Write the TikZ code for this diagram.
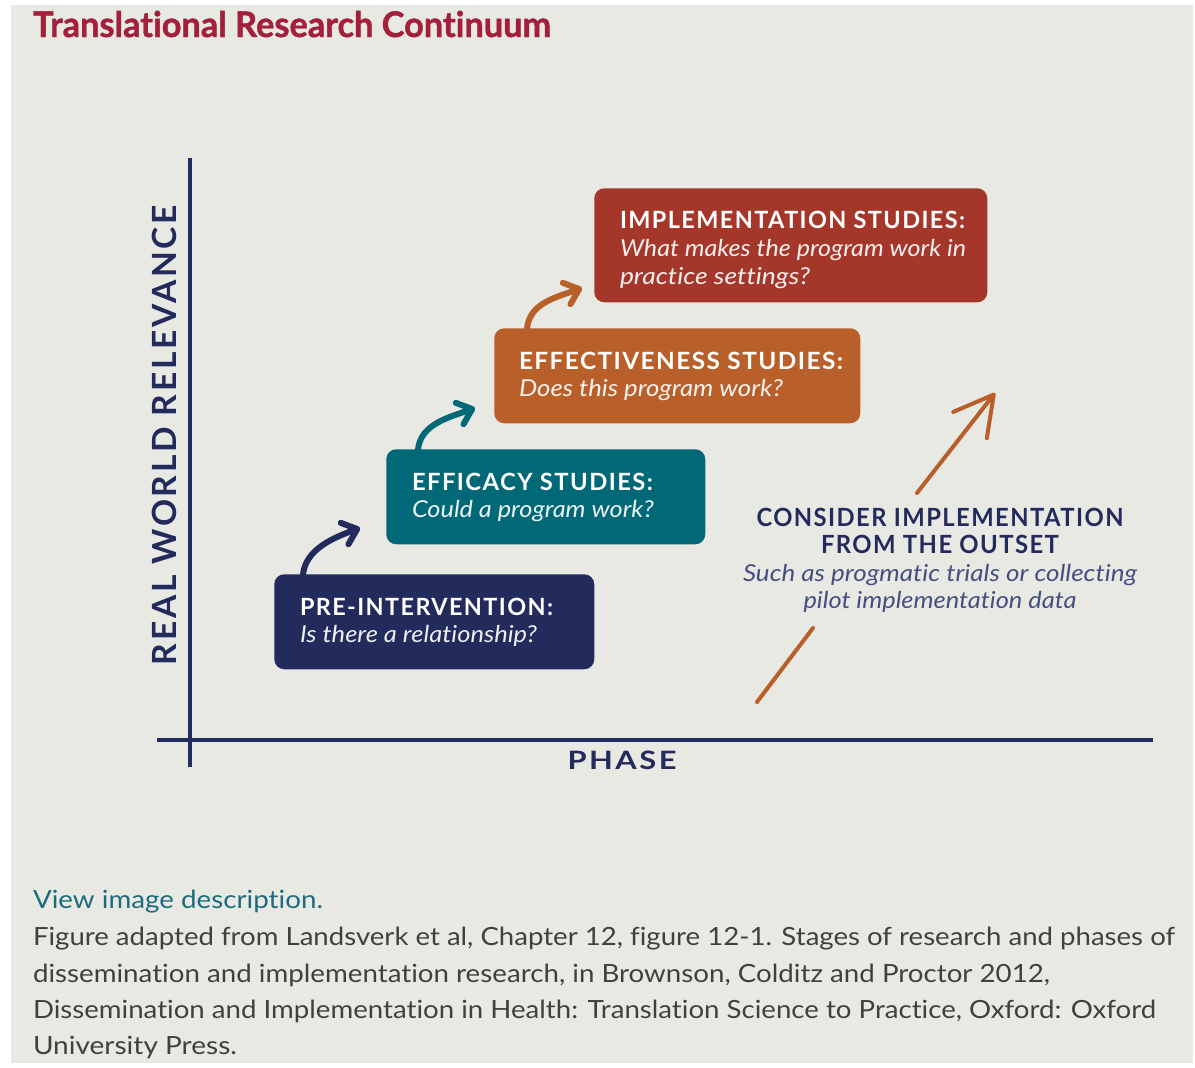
\documentclass[tikz,border=0pt]{standalone}
\usepackage{fontspec}
\setmainfont{Lato}[Ligatures=NoCommon]
\usepackage{graphicx}
\usetikzlibrary{arrows.meta,calc}
\definecolor{bg}{HTML}{E9E9E4}
\definecolor{navy}{HTML}{232A5C}
\definecolor{teal}{HTML}{006877}
\definecolor{orng}{HTML}{B95F29}
\definecolor{brick}{HTML}{A5372A}
\definecolor{crimson}{HTML}{A31F3A}
\definecolor{linkc}{HTML}{1C6C80}
\definecolor{captc}{HTML}{404040}
\definecolor{softnavy}{HTML}{474E82}
\newsavebox\fitbox
\newdimen\fitdim
\newcommand\hfit[2]{\sbox\fitbox{#2}\fitdim=\wd\fitbox\pgfmathsetmacro\fitratio{#1*0.75/\fitdim}\scalebox{\fitratio}[1]{\usebox\fitbox}}
\newcommand\hdfont{\fontsize{17.8}{20}\selectfont\bfseries\addfontfeature{LetterSpace=6}}
\newcommand\itfont{\fontsize{17.5}{20}\selectfont\itshape}
\tikzset{
  txt/.style={inner sep=0pt, outer sep=0pt, anchor=base west},
  ctxt/.style={inner sep=0pt, outer sep=0pt, anchor=base},
  stagebox/.style={rounded corners=7.5pt, inner sep=0pt, anchor=north west},
  stagearrow/.style={line width=4.5pt, line cap=round, -{Straight Barb[length=10pt,width=17pt,round]}},
  axisline/.style={draw=navy, line width=2.6pt},
}
\begin{document}
\begin{tikzpicture}[x=0.75pt,y=-0.75pt]
\useasboundingbox (0,0) rectangle (1195,1067);
\fill[white] (0,0) rectangle (1195,1067);
\fill[bg] (11,5) rectangle (1193,1063);

% title
\node[txt, text=crimson] (title) at (33,37) {\hfit{518}{\fontsize{26.5}{30}\selectfont\bfseries\addfontfeature{FakeBold=1.2}Translational Research Continuum}};

% axes
\coordinate (ytop) at (190,158);
\coordinate (ybot) at (190,767);
\coordinate (xl) at (157,740);
\coordinate (xr) at (1153,740);
\draw[axisline] (ytop) -- (ybot);
\draw[axisline] (xl) -- (xr);
\node[ctxt, rotate=90, text=navy] (ylabel) at (176,435) {\hfit{460}{\fontsize{25}{28}\selectfont\bfseries\addfontfeature{LetterSpace=8}REAL WORLD RELEVANCE}};
\node[ctxt, text=navy] (xlabel) at (622,769) {\hfit{109}{\fontsize{19}{22}\selectfont\bfseries\addfontfeature{LetterSpace=8}PHASE}};

% boxes
\node[stagebox, fill=navy, minimum width=240pt, minimum height=71.25pt] (pre) at (274,574) {};
\node[stagebox, fill=teal, minimum width=239.25pt, minimum height=71.25pt] (effic) at (386,449) {};
\node[stagebox, fill=orng, minimum width=274.5pt, minimum height=71.25pt] (effect) at (494,328) {};
\node[stagebox, fill=brick, minimum width=294.75pt, minimum height=85.5pt] (impl) at (594,188) {};

% box texts
\node[txt, text=white] (preh) at (300,615) {\hfit{253}{\hdfont PRE-INTERVENTION:}};
\node[txt, text=white!92!navy] (prei) at (300,642) {\hfit{237}{\itfont Is there a relationship?}};
\node[txt, text=white] (effich) at (412,490) {\hfit{241}{\hdfont EFFICACY STUDIES:}};
\node[txt, text=white!92!teal] (effici) at (412,517) {\hfit{242}{\itfont Could a program work?}};
\node[txt, text=white] (effecth) at (519,369) {\hfit{324}{\hdfont EFFECTIVENESS STUDIES:}};
\node[txt, text=white!92!orng] (effecti) at (519,396) {\hfit{264}{\itfont Does this program work?}};
\node[txt, text=white] (implh) at (620,228) {\hfit{345}{\hdfont IMPLEMENTATION STUDIES:}};
\node[txt, text=white!92!brick] (impli) at (620,256) {\hfit{346}{\itfont What makes the program work in}};
\node[txt, text=white!92!brick] (impli2) at (620,284) {\hfit{190}{\itfont practice settings?}};

% curved stage arrows
\coordinate (a1s) at ($(pre.north west)+(29,1)$);
\coordinate (a1t) at (360,528);
\draw[stagearrow, navy] (a1s) .. controls ($(a1s)+(2,-26)$) and ($(a1t)+(-25,9)$) .. (a1t);
\coordinate (a2s) at ($(effic.north west)+(32,1)$);
\coordinate (a2t) at (475,408);
\draw[stagearrow, teal] (a2s) .. controls ($(a2s)+(2,-26)$) and ($(a2t)+(-25,9)$) .. (a2t);
\coordinate (a3s) at ($(effect.north west)+(33,1)$);
\coordinate (a3t) at (582,288);
\draw[stagearrow, orng] (a3s) .. controls ($(a3s)+(2,-26)$) and ($(a3t)+(-25,9)$) .. (a3t);

% consider text
\node[ctxt, text=navy] (c1) at (940,526) {\hfit{367}{\fontsize{18.8}{22}\selectfont\bfseries\addfontfeature{LetterSpace=6}CONSIDER IMPLEMENTATION}};
\node[ctxt, text=navy] (c2) at (940,553) {\hfit{238}{\fontsize{18.8}{22}\selectfont\bfseries\addfontfeature{LetterSpace=6}FROM THE OUTSET}};
\node[ctxt, text=softnavy] (c3) at (940,581) {\hfit{394}{\itfont Such as progmatic trials or collecting}};
\node[ctxt, text=softnavy] (c4) at (940,608) {\hfit{273}{\itfont pilot implementation data}};

% long orange arrow (split around text)
\coordinate (lo1) at (757,702);
\coordinate (lo2) at (813,628);
\coordinate (up1) at (917,493);
\coordinate (up2) at (995,393);
\draw[orng, line width=3pt, line cap=round] (lo1) -- (lo2);
\draw[orng, line width=3pt, line cap=round, -{Straight Barb[length=29pt,width=32pt,round]}] (up1) -- (up2);

% caption
\node[txt, text=linkc] (link) at (33,908) {\hfit{290}{\fontsize{18.8}{22}\selectfont View image description.}};
\node[txt, text=captc] (cap1) at (33,945) {\hfit{1142}{\fontsize{18.8}{22}\selectfont Figure adapted from Landsverk et al, Chapter 12, figure 12-1. Stages of research and phases of}};
\node[txt, text=captc] (cap2) at (33,982) {\hfit{1017}{\fontsize{18.8}{22}\selectfont dissemination and implementation research, in Brownson, Colditz and Proctor 2012,}};
\node[txt, text=captc] (cap3) at (33,1018) {\hfit{1123}{\fontsize{18.8}{22}\selectfont Dissemination and Implementation in Health: Translation Science to Practice, Oxford: Oxford}};
\node[txt, text=captc] (cap4) at (33,1054) {\hfit{204}{\fontsize{18.8}{22}\selectfont University Press.}};
\end{tikzpicture}
\end{document}
